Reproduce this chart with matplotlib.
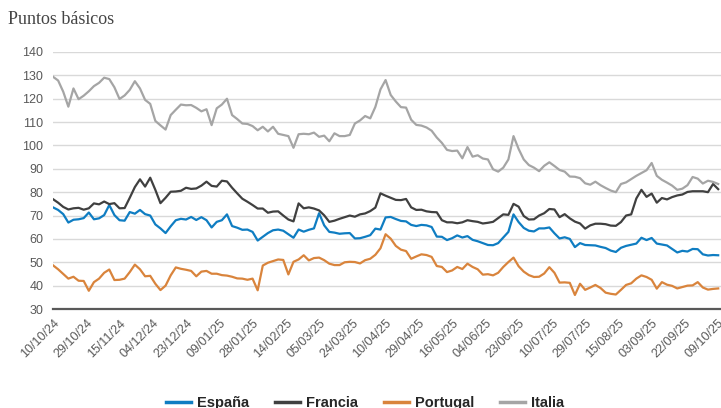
import numpy as np
import matplotlib
matplotlib.use('Agg')
import matplotlib.pyplot as plt

# values read every 2 business days, 10/10/24 -> 09/10/25 (puntos básicos)
italia = [129.4, 127.8, 123, 116.6, 124.4, 119.8, 121.3, 123.2, 125.4, 126.8,
          129, 128.4, 124.9, 119.9, 121.4, 123.8, 127.5, 124.4, 119.5, 117.8,
          110.5, 108.6, 106.8, 113, 115.3, 117.5, 117.2, 117.3, 116.1, 114.6,
          115.5, 108.7, 115.9, 117.5, 120, 113, 111.3, 109.4, 109.2, 108.3,
          106.5, 108, 106, 108, 105, 104.5, 104, 99, 104.8, 105,
          104.8, 105.5, 103.7, 104.2, 101.8, 105.2, 104, 104, 104.5, 109.4,
          110.7, 112.6, 111.6, 116.5, 124, 128, 121.6, 118.8, 116.4, 116.2,
          111, 108.8, 108.5, 107.7, 106.3, 103.4, 101.1, 98.1, 97.6, 97.8,
          94.5, 99.3, 95.2, 95.8, 94.4, 94, 89.8, 88.8, 90.5, 94,
          104, 98.5, 94, 91.6, 90.5, 89, 91.3, 92.8, 91.2, 89.5,
          88.8, 86.7, 86.6, 86, 83.8, 83.2, 84.5, 83, 81.8, 80.7,
          80, 83.5, 84.2, 85.6, 87, 88.2, 89.4, 92.5, 87, 85.3,
          84.1, 82.8, 81, 81.5, 83, 86.5, 85.8, 83.7, 84.9, 84.4,
          83.5]

francia = [77, 75.5, 73.7, 72.6, 73.1, 73.3, 72.5, 73.1, 75.2, 74.8,
           76, 74.9, 75.3, 73.1, 73.2, 77.6, 82.2, 85.5, 82.4, 86.2,
           81, 75.3, 77.6, 80.2, 80.3, 80.6, 81.9, 81.4, 81.6, 82.8,
           84.5, 82.7, 82.4, 84.9, 84.6, 81.9, 79.5, 77.2, 75.9, 74.5,
           73, 73, 71.2, 71.7, 71.8, 70, 68.3, 67.5, 75.2, 73.1,
           73.5, 73, 72.2, 70.1, 67.3, 67.8, 68.6, 69.3, 70, 69.5,
           70.5, 70.9, 71.9, 73.4, 79.5, 78.5, 77.6, 76.7, 76.6, 77.1,
           73.5, 72.4, 72.5, 71.8, 71.5, 71.4, 68, 67.1, 67.1, 66.7,
           67.1, 68, 67.6, 67.3, 66.6, 66.9, 67.3, 68.9, 70.5, 70.3,
           75, 73.8, 69.8, 68.3, 68.4, 70, 71, 72.8, 72.6, 69.3,
           70.6, 68.8, 67.4, 66.6, 64.4, 65.8, 66.5, 66.5, 66.3, 65.7,
           65.6, 67.2, 70, 70.5, 77.3, 81, 78, 79.4, 75.5, 77.5,
           76.9, 77.9, 78.6, 79, 80.1, 80.4, 80.4, 80.4, 80, 83.5,
           81.3]

espana = [73.5, 72.4, 70.6, 67, 68.2, 68.4, 68.9, 71.3, 68.4, 68.8,
          70.2, 74.5, 70.2, 68, 67.8, 71.5, 70.8, 72.4, 70.6, 70,
          66.2, 64.5, 62.5, 65.4, 68, 68.6, 68.3, 69.4, 68.1, 69.3,
          68, 64.9, 67.3, 68, 70.5, 65.5, 64.8, 63.9, 64, 63,
          59.3, 60.9, 62.5, 63.7, 64, 63.5, 62, 60.5, 64, 63.1,
          63.9, 64.5, 71, 65.8, 63, 62.7, 62.2, 62.4, 62.5, 60.2,
          60.3, 60.9, 61.6, 64.4, 64, 69.2, 69.4, 68.5, 67.7, 67.5,
          66, 65.5, 66, 65.8, 65.1, 61, 60.9, 59.5, 60.3, 61.5,
          60.6, 61.2, 59.6, 59, 58.2, 57.4, 57.3, 58.2, 60.6, 63,
          70.5, 67.2, 64.7, 63.5, 63.2, 64.5, 64.5, 64.9, 62.4, 60.2,
          60.7, 60, 56.5, 58.2, 57.4, 57.3, 57.2, 56.6, 56.1, 55,
          54.4, 56.2, 57, 57.5, 58, 60.5, 59.5, 60.4, 58, 57.6,
          57.2, 55.7, 54.2, 54.9, 54.6, 55.7, 55.6, 53.4, 52.9, 53.1,
          53]

portugal = [48.7, 47, 45, 43, 43.8, 42.1, 42, 37.8, 41.5, 43,
            45.5, 46.9, 42.4, 42.5, 43, 45.8, 49, 47, 44, 44.2,
            40.8, 38.1, 40, 44.4, 47.8, 47.2, 46.8, 46.3, 44, 46,
            46.3, 45.1, 45.1, 44.5, 44.3, 43.8, 43.1, 43, 42.5, 43,
            38, 48.6, 49.8, 50.5, 51.2, 51, 44.8, 50.2, 51.2, 53,
            50.8, 51.8, 52, 50.9, 49.4, 48.8, 48.8, 50, 50.2, 50.1,
            49.5, 50.9, 51.5, 53.2, 56, 62, 60.1, 57, 55.4, 54.8,
            51.5, 52.5, 53.4, 53.1, 52.3, 48.4, 48, 45.8, 46.5, 48,
            47.1, 49.4, 48, 47, 44.7, 44.9, 44.4, 45.5, 48, 50.1,
            52, 48.3, 46, 44.5, 43.7, 43.8, 45.2, 47.9, 45.5, 41.3,
            41.4, 41.2, 36, 40.8, 38.2, 39.2, 40.3, 39, 37, 36.5,
            36.2, 38.2, 40.3, 41, 43, 44.4, 43.7, 42.5, 38.7, 41.5,
            40.4, 39.9, 38.8, 39.4, 40, 40.1, 41.5, 39.2, 38.3, 38.6,
            38.8]

tick_labels = ['10/10/24', '29/10/24', '15/11/24', '04/12/24', '23/12/24',
               '09/01/25', '28/01/25', '14/02/25', '05/03/25', '24/03/25',
               '10/04/25', '29/04/25', '16/05/25', '04/06/25', '23/06/25',
               '10/07/25', '29/07/25', '15/08/25', '03/09/25', '22/09/25',
               '09/10/25']

# x axis is business-day index; a reading every 2 days, a label every 13 days
x = np.arange(len(italia)) * 2
tick_pos = np.arange(len(tick_labels)) * 13

plt.rcParams['font.family'] = ['Liberation Sans', 'DejaVu Sans']

fig = plt.figure(figsize=(7.21, 4.08), dpi=100)
ax = fig.add_axes([53/721, 99/408, 668/721, 257/408])

ax.plot(x, espana, color='#0f7dc2', lw=1.6, label='España')
ax.plot(x, francia, color='#404040', lw=1.6, label='Francia')
ax.plot(x, portugal, color='#d9843c', lw=1.6, label='Portugal')
ax.plot(x, italia, color='#a5a5a5', lw=1.6, label='Italia')

ax.set_xlim(0, 261.1)
ax.set_ylim(30, 140)
ax.set_yticks(np.arange(30, 141, 10))
ax.set_xticks(tick_pos)
ax.set_xticklabels(tick_labels, rotation=45, ha='right', rotation_mode='anchor')

ax.yaxis.grid(True, color='#d9d9d9', lw=1)
ax.set_axisbelow(True)
for s in ['top', 'right', 'left']:
    ax.spines[s].set_visible(False)
ax.spines['bottom'].set_color('#595959')
ax.spines['bottom'].set_linewidth(1.6)
ax.tick_params(axis='both', length=0, labelsize=9, labelcolor='#595959')
ax.tick_params(axis='y', pad=7)
ax.tick_params(axis='x', pad=6)

fig.text(8/721, 1 - 20/408, 'Puntos básicos', family='Liberation Serif',
         fontsize=13, color='#444444', va='center', ha='left')

leg = fig.legend(loc='center', bbox_to_anchor=(365/721, 5/408), ncol=4,
                 frameon=False, handlelength=1.7, handletextpad=0.4,
                 columnspacing=1.8, prop={'weight': 'bold', 'size': 10.5})
for line in leg.get_lines():
    line.set_linewidth(2.5)
for t in leg.get_texts():
    t.set_color('#262626')

fig.savefig('out.png', dpi=100)
